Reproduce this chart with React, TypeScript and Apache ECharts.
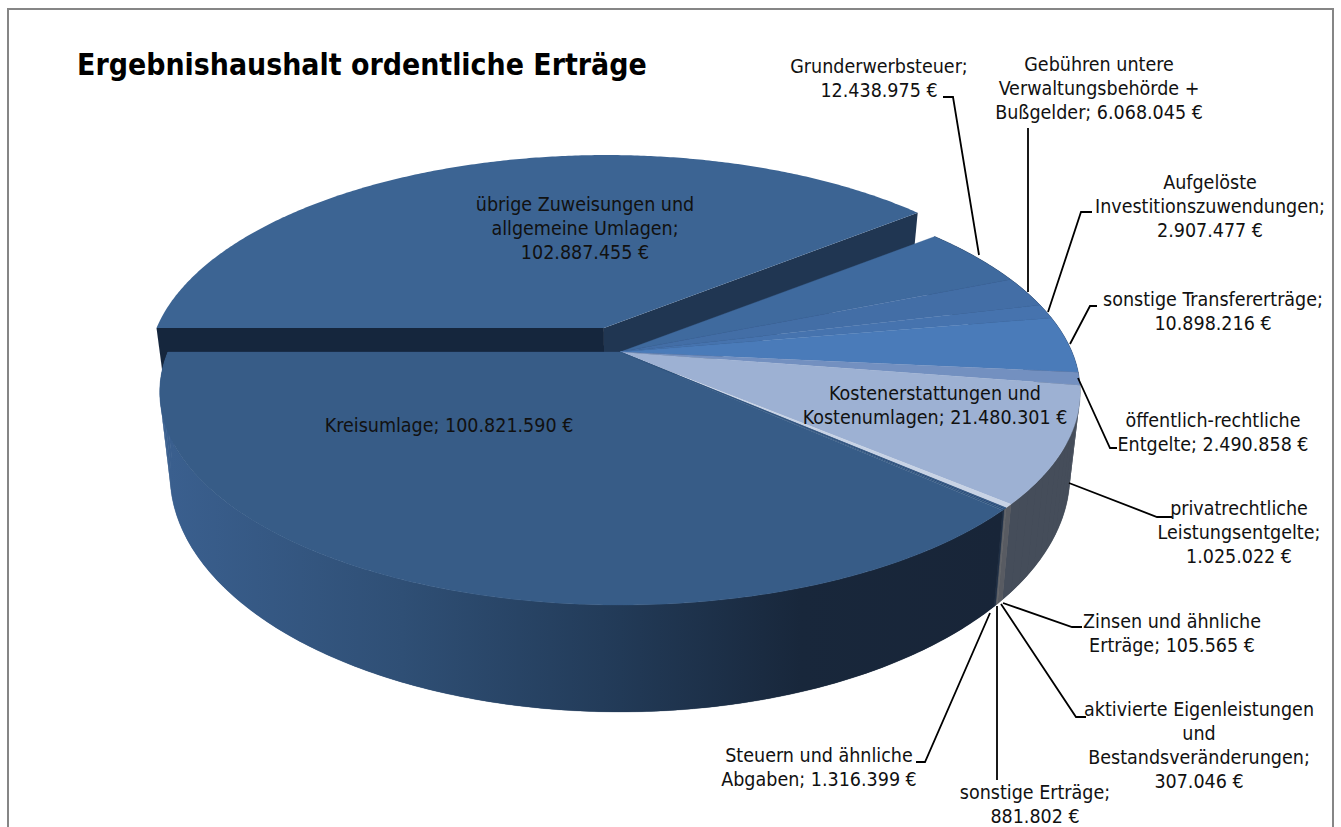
import React, { useEffect, useRef } from "react";
import * as echarts from "echarts";

const sliceNames = [
  "übrige Zuweisungen und allgemeine Umlagen",
  "Grunderwerbsteuer",
  "Gebühren untere Verwaltungsbehörde + Bußgelder",
  "Aufgelöste Investitionszuwendungen",
  "sonstige Transfererträge",
  "öffentlich-rechtliche Entgelte",
  "Kostenerstattungen und Kostenumlagen",
  "privatrechtliche Leistungsentgelte",
  "Zinsen und ähnliche Erträge",
  "aktivierte Eigenleistungen und Bestandsveränderungen",
  "sonstige Erträge",
  "Steuern und ähnliche Abgaben",
  "Kreisumlage",
];
const sliceValues = [
  102887455, 12438975, 6068045, 2907477, 10898216, 2490858, 21480301, 1025022, 105565, 307046,
  881802, 1316399, 100821590,
];
const labelTexts = [
  "übrige Zuweisungen und\nallgemeine Umlagen;\n102.887.455 €",
  "Grunderwerbsteuer;\n12.438.975 €",
  "Gebühren untere\nVerwaltungsbehörde +\nBußgelder; 6.068.045 €",
  "Aufgelöste\nInvestitionszuwendungen;\n2.907.477 €",
  "sonstige Transfererträge;\n10.898.216 €",
  "öffentlich-rechtliche\nEntgelte; 2.490.858 €",
  "Kostenerstattungen und\nKostenumlagen; 21.480.301 €",
  "privatrechtliche\nLeistungsentgelte;\n1.025.022 €",
  "Zinsen und ähnliche\nErträge; 105.565 €",
  "aktivierte Eigenleistungen\nund\nBestandsveränderungen;\n307.046 €",
  "sonstige Erträge;\n881.802 €",
  "Steuern und ähnliche\nAbgaben; 1.316.399 €",
  "Kreisumlage; 100.821.590 €",
];
const titleText = "Ergebnishaushalt ordentliche Erträge";

// layout (label centre, leader polyline) in page pixels, same order as the slices
const labelCentres = [
  [585, 228], [879, 78.5], [1099, 88.5], [1210, 206.5], [1213, 311.5], [1213, 432], [935, 405],
  [1239, 532], [1172, 633], [1199, 745.5], [1035, 804.5], [819, 767], [449, 425],
];
const leaders: (number[][] | null)[] = [
  null,
  [[943, 97], [953, 97], [979, 255]],
  [[1028, 128], [1028, 292]],
  [[1092, 212], [1081, 212], [1048, 312]],
  [[1097, 306], [1090, 306], [1070, 344]],
  [[1078, 378], [1110, 448], [1117, 448]],
  null,
  [[1069, 483], [1157, 517], [1172, 517]],
  [[1003, 603], [1072, 627], [1082, 627]],
  [[1001, 604], [1076, 717], [1086, 717]],
  [[997, 606], [997, 780]],
  [[990, 613], [925, 762], [916, 762]],
  null,
];
const topColours = [
  "#3c6493", "#3f6a9e", "#436ea6", "#4673ae", "#4a7bb9", "#7390c0", "#9db1d3", "#c8d3e5",
  "#2a4d7c", "#2a4d7c", "#2a4d7c", "#31557f", "#375c87",
];
const wallColours = [
  "#203652", "#203652", "#203652", "#203652", "#2a3a50", "#3a4452", "#454d5a", "#585b62",
  "#5e6166", "#686a6e", "#5f6167", "#1f2f45", "",
];
// how far, in degrees, the reference drew each slice's end from its exact share
const endNudge = [0.6, 0.3, 0.4, 0.4, 0.9, 1.0, 3.24, 2.84, 2.75, 2.4, 1.5, 0, 0];

const FONT = "'DejaVu Sans Condensed', 'DejaVu Sans', sans-serif";
const FONT_SIZE = 19.5;
const K = 0.1878;
const CX = 620;
const TOP = { r: 452, s: 205.5, cy: 352 };
const BOTTOM = { r: 442, s: 229, cy: 430 };
const EXPLODED_TOP = { r: 457, s: 213.7, cy: 352 };
const EXPLODED_BOTTOM = { r: 447, s: 229, cy: 430 };
const EXPLODE = { du: -0.036, dv: -0.1145 };
const START = 180;

const total = sliceValues.reduce((a, b) => a + b, 0);
function sliceAngles(i: number): [number, number] {
  let sum = 0;
  for (let j = 0; j < i; j++) sum += sliceValues[j];
  const before = i > 0 ? endNudge[i - 1] : 0;
  return [
    START + (sum / total) * 360 + before,
    START + ((sum + sliceValues[i]) / total) * 360 + endNudge[i],
  ];
}
function project(plane: typeof TOP, u: number, v: number) {
  const w = 1 - K * v;
  return [CX + (plane.r * u) / w, plane.cy + (plane.s * v) / w];
}
function onCircle(plane: typeof TOP, deg: number, du = 0, dv = 0) {
  const a = (deg * Math.PI) / 180;
  return project(plane, Math.cos(a) + du, Math.sin(a) + dv);
}
function arc(plane: typeof TOP, a0: number, a1: number, du = 0, dv = 0) {
  const pts: number[][] = [];
  const n = Math.max(2, Math.ceil(Math.abs(a1 - a0) / 0.5));
  for (let i = 0; i <= n; i++) pts.push(onCircle(plane, a0 + ((a1 - a0) * i) / n, du, dv));
  return pts;
}
const kreisWallFill = {
  type: "linear", global: true, x: 170, y: 0, x2: 1000, y2: 0,
  colorStops: [
    { offset: 0, color: "#3a5f8e" },
    { offset: 0.28, color: "#2f4f75" },
    { offset: 0.52, color: "#233c5a" },
    { offset: 0.76, color: "#18273b" },
    { offset: 1, color: "#182538" },
  ],
};

function renderPhase(phase: string) {
  return (params: any, api: any) => {
    const i = params.dataIndex;
    const value = api.value(0);
    if (!value) return null;
    const [a0, a1] = sliceAngles(i);
    const { du, dv } = EXPLODE;
    if (phase === "exploded") {
      if (i !== 0) return null;
      const apexT = project(EXPLODED_TOP, du, dv);
      const apexB = project(EXPLODED_BOTTOM, du, dv);
      const t0 = onCircle(EXPLODED_TOP, a0, du, dv);
      const b0 = onCircle(EXPLODED_BOTTOM, a0, du, dv);
      const t1 = onCircle(EXPLODED_TOP, a1, du, dv);
      const b1 = onCircle(EXPLODED_BOTTOM, a1, du, dv);
      return {
        type: "group",
        children: [
          { type: "polygon", shape: { points: [apexT, t1, b1, apexB] }, style: { fill: "#203652" } },
          { type: "polygon", shape: { points: [apexT, t0, b0, apexB] }, style: { fill: "#15263d" } },
          {
            type: "polygon",
            shape: { points: [apexT, ...arc(EXPLODED_TOP, a0, a1, du, dv)] },
            style: { fill: topColours[i] },
          },
        ],
      };
    }
    if (i === 0) return null;
    if (phase === "walls") {
      const fill = i === sliceValues.length - 1 ? kreisWallFill : wallColours[i];
      const children: any[] = [
        {
          type: "polygon",
          shape: { points: [...arc(TOP, a0, a1), ...arc(BOTTOM, a1, a0)] },
          style: { fill, stroke: fill, lineWidth: 0.3 },
        },
      ];
      // quads between the two rims, so the outline runs straight where the wall turns away
      const n = Math.ceil(Math.abs(a1 - a0) / 2);
      for (let j = 0; j <= n; j++) {
        const a = a0 + ((a1 - a0) * j) / n;
        const b = a0 + ((a1 - a0) * Math.min(n, j + 1)) / n;
        children.push({
          type: "polygon",
          shape: { points: [onCircle(TOP, a), onCircle(TOP, b), onCircle(BOTTOM, b), onCircle(BOTTOM, a)] },
          style: { fill },
        });
      }
      return { type: "group", children };
    }
    const pts = [project(TOP, 0, 0), ...arc(TOP, a0, a1)];
    return {
      type: "polygon",
      shape: { points: pts },
      style: { fill: topColours[i], stroke: topColours[i], lineWidth: 0.3 },
    };
  };
}

const seriesData = sliceValues.map((v, i) => ({ name: sliceNames[i], value: [v] }));

export default function App() {
  const ref = useRef<HTMLDivElement>(null);
  useEffect(() => {
    const chart = echarts.init(ref.current!, undefined, { renderer: "svg" });
    const graphics: any[] = [
      {
        type: "rect", z: 0,
        shape: { x: 8, y: 9, width: 1325, height: 900 },
        style: { fill: "#fff", stroke: "#868686", lineWidth: 2 },
      },
      {
        type: "text", z: 20, x: 77, y: 64,
        style: {
          text: titleText, fill: "#000", font: `bold 29.9px ${FONT}`,
          textAlign: "left", textVerticalAlign: "middle",
        },
      },
    ];
    leaders.forEach((pts) => {
      if (pts)
        graphics.push({
          type: "polyline", z: 20, shape: { points: pts },
          style: { stroke: "#000", lineWidth: 1.8, fill: "none" },
        });
    });
    labelTexts.forEach((t, i) => {
      const lines = t.split("\n");
      lines.forEach((line, j) => {
        graphics.push({
          type: "text", z: 20, x: labelCentres[i][0],
          y: labelCentres[i][1] + (j - (lines.length - 1) / 2) * 24,
          style: {
            text: line, fill: "#111", font: `${FONT_SIZE}px ${FONT}`, lineHeight: 15,
            textAlign: "center", textVerticalAlign: "middle",
          },
        });
      });
    });
    chart.setOption({
      animation: false,
      backgroundColor: "#fff",
      graphic: { elements: graphics },
      series: ["exploded", "walls", "tops"].map((phase, i) => ({
        type: "custom",
        name: phase,
        coordinateSystem: "none",
        z: 5 + i,
        silent: true,
        renderItem: renderPhase(phase),
        data: seriesData,
      })),
    });
    return () => chart.dispose();
  }, []);
  return <div ref={ref} style={{ position: "absolute", left: 0, top: 0, width: 1341, height: 827 }} />;
}
